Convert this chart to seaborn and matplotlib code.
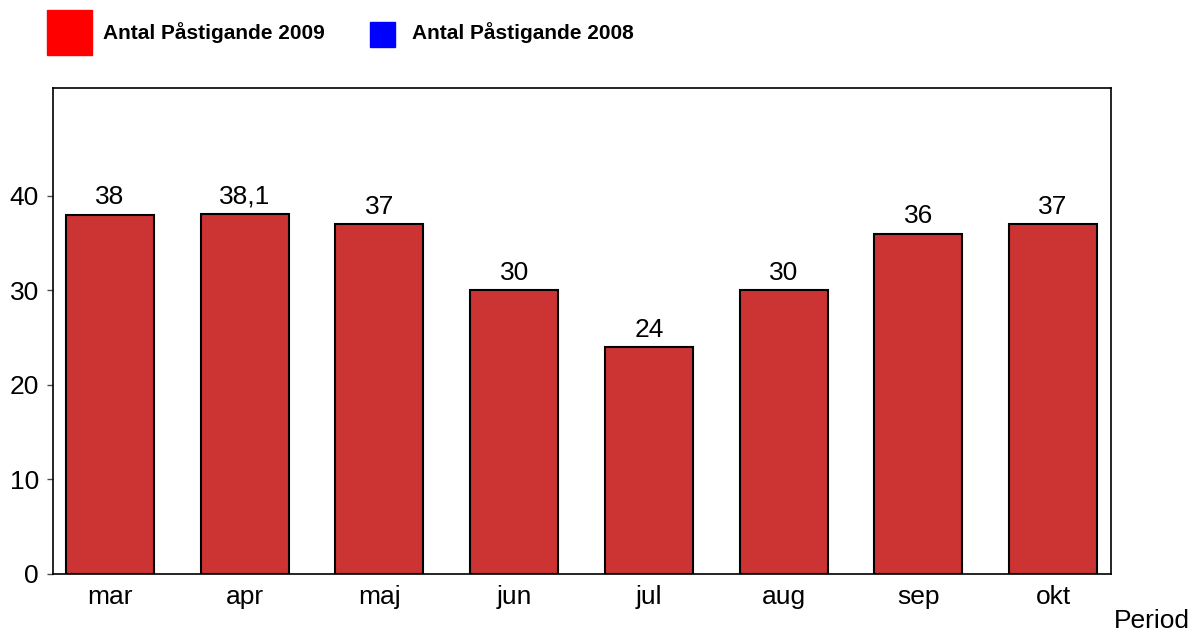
import matplotlib
matplotlib.use("Agg")
import matplotlib.pyplot as plt
import matplotlib.patches as mpatches
import seaborn as sns
import pandas as pd

#
# 01. Dados
#
meses = ["mar", "apr", "maj", "jun", "jul", "aug", "sep", "okt"]
valores_2009 = [38, 38.1, 37, 30, 24, 30, 36, 37]
legenda = ["Antal Påstigande 2009", "Antal Påstigande 2008"]
cores_legenda = ["#ff0000", "#0000ff"]
yticks = [0, 10, 20, 30, 40]

df = pd.DataFrame({"Period": meses, "Antal": valores_2009})

#
# 02. Tema
#
sns.set_theme(style="white", rc={"text.color": "black",
                                 "xtick.color": "black",
                                 "ytick.color": "black"})
plt.rcParams["font.family"] = ["Liberation Sans", "DejaVu Sans"]

fig = plt.figure(figsize=(12.02, 6.36), dpi=100)
ax = fig.add_axes([0.0441, 0.0975, 0.8802, 0.7641])

#
# 03. Barras
#
sns.barplot(data=df, x="Period", y="Antal", color="#cc3333", saturation=1,
            edgecolor="black", linewidth=1.5, width=0.653, ax=ax)

for p, v in zip(ax.patches, valores_2009):
    txt = f"{v:g}".replace(".", ",")
    ax.annotate(txt, (p.get_x() + p.get_width() / 2, p.get_height()),
                xytext=(0, 4), textcoords="offset points",
                ha="center", va="bottom", fontsize=19)

#
# 04. Eixos
#
ax.set_xlim(-0.423, 7.43)
ax.set_ylim(0, 51.4)
ax.set_yticks(yticks)
ax.set_xlabel("")
ax.set_ylabel("")
ax.tick_params(axis="y", which="major", left=True, length=4, width=1,
               color="0.3", labelsize=19, pad=6)
ax.tick_params(axis="x", bottom=False, labelsize=19, pad=2)
for s in ax.spines.values():
    s.set_linewidth(1.2)
    s.set_color("black")

fig.text(1190 / 1202, 1 - 621 / 636, "Period", ha="right", va="center", fontsize=19)

#
# 05. Legenda
#
fig.add_artist(mpatches.Rectangle((47 / 1202, 1 - 55 / 636), 45 / 1202, 45 / 636,
                                  transform=fig.transFigure, color=cores_legenda[0]))
fig.text(103 / 1202, 1 - 33 / 636, legenda[0], ha="left", va="center",
         fontsize=15, fontweight="bold")
fig.add_artist(mpatches.Rectangle((370 / 1202, 1 - 47 / 636), 25 / 1202, 25 / 636,
                                  transform=fig.transFigure, color=cores_legenda[1]))
fig.text(412 / 1202, 1 - 33 / 636, legenda[1], ha="left", va="center",
         fontsize=15, fontweight="bold")

plt.savefig("out.png", dpi=100, facecolor="white")
